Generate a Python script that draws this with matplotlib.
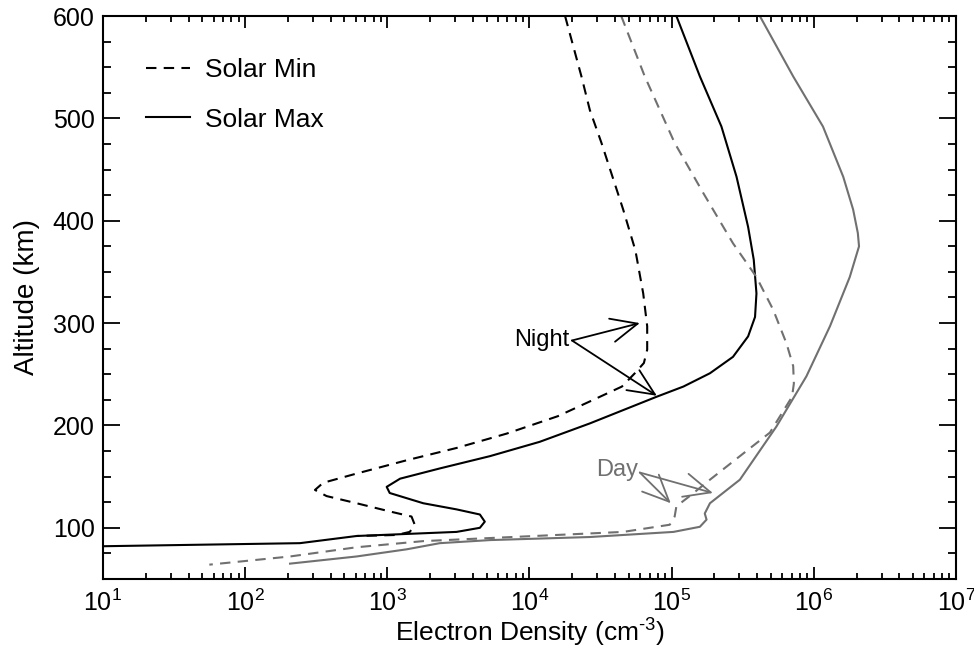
import matplotlib
matplotlib.use("Agg")
import matplotlib.pyplot as plt
from matplotlib.ticker import FixedLocator, LogLocator, NullFormatter

# Electron density profiles (altitude km, density cm^-3)
night_min_alt = [600, 541, 508, 476, 411, 371, 329, 297, 274, 261, 251, 238,
                 225, 209, 192, 178, 166, 153, 144, 137, 131, 124, 116, 111,
                 103, 96, 93, 92]
night_min_ne = [1.78e4, 2.32e4, 2.66e4, 3.21e4, 4.56e4, 5.56e4, 6.31e4,
                6.73e4, 6.73e4, 6.38e4, 5.51e4, 4.47e4, 2.81e4, 1.58e4, 6.9e3,
                3.07e3, 1.37e3, 6.08e2, 3.54e2, 3.10e2, 3.74e2, 6.08e2,
                1.04e3, 1.48e3, 1.56e3, 1.44e3, 1.16e3, 6.08e2]

night_max_alt = [600, 541, 492, 443, 394, 362, 329, 306, 287, 267, 251, 238,
                 228, 202, 184, 170, 158, 148, 140, 134, 124, 118, 113, 106,
                 100, 96, 94, 92, 85, 82]
night_max_ne = [1.08e5, 1.58e5, 2.24e5, 2.86e5, 3.45e5, 3.78e5, 3.95e5,
                3.86e5, 3.45e5, 2.70e5, 1.86e5, 1.21e5, 7.83e4, 2.66e4,
                1.18e4, 5.27e3, 2.34e3, 1.23e3, 9.9e2, 1.04e3, 1.79e3,
                3.07e3, 4.48e3, 4.85e3, 4.48e3, 3.07e3, 1.37e3, 6.08e2,
                2.43e2, 1.0e1]

day_min_alt = [600, 541, 476, 427, 378, 345, 313, 280, 258, 241, 228, 193,
               170, 147, 131, 121, 111, 103, 96, 93, 90, 87, 81, 72, 64]
day_min_ne = [4.42e4, 6.47e4, 1.05e5, 1.67e5, 2.70e5, 3.95e5, 5.18e5,
              6.43e5, 7.16e5, 7.24e5, 7.03e5, 4.91e5, 3.02e5, 1.86e5, 1.34e5,
              1.08e5, 1.05e5, 9.7e4, 4.56e4, 1.55e4, 5.27e3, 1.79e3, 6.08e2,
              2.07e2, 56]

day_max_alt = [600, 541, 492, 443, 411, 388, 375, 345, 297, 248, 199, 147,
               124, 114, 108, 101, 96, 91, 88, 85, 79, 72, 65]
day_max_ne = [4.17e5, 7.16e5, 1.16e6, 1.61e6, 1.89e6, 2.04e6, 2.08e6,
              1.79e6, 1.30e6, 8.87e5, 5.46e5, 3.02e5, 1.86e5, 1.71e5,
              1.76e5, 1.58e5, 1.03e5, 2.66e4, 5.27e3, 2.34e3, 1.37e3,
              6.08e2, 2.07e2]

alt_ticks = [100, 200, 300, 400, 500, 600]
ne_ticks = [1e1, 1e2, 1e3, 1e4, 1e5, 1e6, 1e7]

plt.rcParams['font.family'] = ['Liberation Sans', 'DejaVu Sans']
plt.rcParams['mathtext.fontset'] = 'custom'
plt.rcParams['mathtext.rm'] = 'Liberation Sans'
plt.rcParams['mathtext.it'] = 'Liberation Sans:italic'

gray = '#707070'
dash = (0, (5, 3.5))

fig = plt.figure(figsize=(9.74, 6.48), dpi=100)
ax = fig.add_axes([0.1057, 0.1065, 0.8758, 0.8688])

ax.plot(night_min_ne, night_min_alt, color='black', lw=1.5, linestyle=dash,
        label='Solar Min')
ax.plot(night_max_ne, night_max_alt, color='black', lw=1.5, label='Solar Max')
ax.plot(day_min_ne, day_min_alt, color=gray, lw=1.5, linestyle=dash)
ax.plot(day_max_ne, day_max_alt, color=gray, lw=1.5)

ax.set_xscale('log')
ax.set_xlim(1e1, 1e7)
ax.set_ylim(50, 600)
ax.yaxis.set_major_locator(FixedLocator(alt_ticks))
ax.yaxis.set_minor_locator(FixedLocator(range(50, 601, 25)))
ax.xaxis.set_major_locator(FixedLocator(ne_ticks))
ax.xaxis.set_minor_locator(LogLocator(base=10, subs=range(2, 10), numticks=20))
ax.xaxis.set_minor_formatter(NullFormatter())

ax.tick_params(axis='both', which='both', direction='in', top=True, right=True,
               width=1.3, labelsize=18)
ax.tick_params(axis='x', which='major', length=8.6, pad=8)
ax.tick_params(axis='x', which='minor', length=4.3)
ax.tick_params(axis='y', which='major', length=12, pad=6)
ax.tick_params(axis='y', which='minor', length=6)
for sp in ax.spines.values():
    sp.set_linewidth(1.5)

ax.set_xlabel(r'Electron Density (cm$^{\text{-}3}$)', fontsize=19, labelpad=0)
ax.set_ylabel('Altitude (km)', fontsize=20, labelpad=9)

ax.legend(loc='upper left', bbox_to_anchor=(0.035, 0.948), frameon=False,
          fontsize=19, handlelength=1.65, handletextpad=0.6, labelspacing=0.95,
          borderpad=0)

# Annotations
ax.text(1.9e4, 283, 'Night', fontsize=17, ha='right', va='center')
arrow_kw = dict(arrowstyle='->,head_length=1.0,head_width=0.45', lw=1.3,
                shrinkA=0, shrinkB=0, mutation_scale=19)
for xy in [(5.97e4, 300), (7.87e4, 229)]:
    ax.annotate('', xy=xy, xytext=(1.99e4, 283),
                arrowprops=dict(color='black', **arrow_kw))

ax.text(5.8e4, 156, 'Day', fontsize=17, ha='right', va='center', color=gray)
for xy in [(9.86e4, 124), (1.95e5, 134)]:
    ax.annotate('', xy=xy, xytext=(5.97e4, 154),
                arrowprops=dict(color=gray, **arrow_kw))

fig.savefig('out.png', dpi=100)
